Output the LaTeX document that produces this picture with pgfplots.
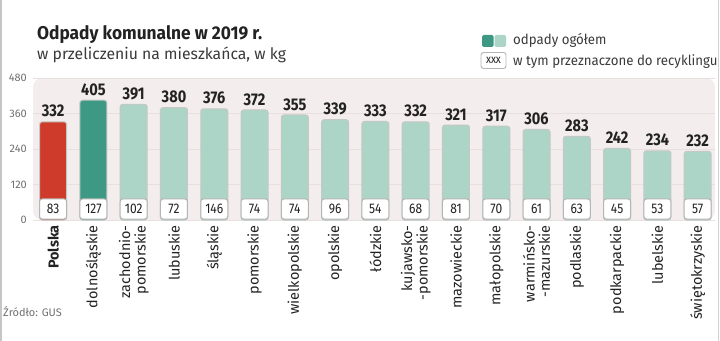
\documentclass[border=0pt]{standalone}
\usepackage{fontspec}
\setmainfont{Fira Sans}
\newfontfamily\cond[FakeStretch=0.86]{Fira Sans}
\newfontfamily\semi[FakeStretch=0.95]{Fira Sans}
\newfontfamily\tcond[FakeStretch=0.94]{Fira Sans}
\usepackage{pgfplots}
\pgfplotsset{compat=1.18}
\definecolor{panel}{HTML}{F4EDED}
\definecolor{gridc}{HTML}{EADFDF}
\definecolor{redb}{HTML}{CF3B2A}
\definecolor{darkteal}{HTML}{3D9984}
\definecolor{lightteal}{HTML}{ADD5C7}
\definecolor{barborder}{HTML}{C4C8C6}
\definecolor{boxborder}{HTML}{B2B6B4}
\definecolor{txt}{HTML}{222222}
\definecolor{subtxt}{HTML}{3A3A3A}
\definecolor{ticktxt}{HTML}{707070}
\begin{document}
\begin{tikzpicture}
\path[use as bounding box] (0bp,0bp) rectangle (720bp,341bp);
\draw[color=gray!45, line width=2bp] (1bp,0bp) -- (1bp,341bp);
\draw[color=gray!35, line width=1.5bp] (718.5bp,0bp) -- (718.5bp,341bp);
% titles
\node[anchor=base west, inner sep=0pt, text=txt, font=\tcond\bfseries\fontsize{18.5}{18.5}\selectfont] at (37bp,301bp) {Odpady komunalne w 2019 r.};
\node[anchor=base west, inner sep=0pt, text=subtxt, font=\fontsize{15.8}{16}\selectfont] at (37bp,281bp) {w przeliczeniu na mieszkańca, w kg};
% legend
\fill[darkteal, rounded corners=1.5bp] (482bp,294bp) rectangle (493.5bp,306bp);
\fill[lightteal, rounded corners=1.5bp] (494.5bp,294bp) rectangle (506bp,306bp);
\node[anchor=base west, inner sep=0pt, text=subtxt, font=\semi\fontsize{14}{14}\selectfont] at (513bp,296bp) {odpady ogółem};
\node[draw=boxborder, fill=white, line width=0.9bp, rounded corners=2.5bp, minimum width=25bp, minimum height=16bp, inner sep=0pt, text=txt, font=\cond\fontsize{12}{12}\selectfont] at (493.5bp,280.5bp) {xxx};
\node[anchor=base west, inner sep=0pt, text=subtxt, font=\semi\fontsize{14}{14}\selectfont] at (513bp,275bp) {w tym przeznaczone do recyklingu};
% source
\node[anchor=base west, inner sep=0pt, text=ticktxt, font=\fontsize{11}{11}\selectfont] at (3bp,25bp) {Źródło: GUS};
\begin{axis}[
  at={(33bp,121bp)}, anchor=south west,
  width=682bp, height=142bp, scale only axis,
  xmin=-0.5, xmax=16.43, ymin=0, ymax=480,
  ytick={0,120,240,360,480},
  xtick={0,...,16},
  xticklabels={{\textbf{Polska}},dolnośląskie,{zachodnio-\\pomorskie},lubuskie,śląskie,pomorskie,wielkopolskie,opolskie,łódzkie,{kujawsko-\\-pomorskie},mazowieckie,małopolskie,{warmińsko-\\-mazurskie},podlaskie,podkarpackie,lubelskie,świętokrzyskie},
  xticklabel style={rotate=90, anchor=east, align=right, inner xsep=5bp, inner ysep=0pt, text=txt, font=\fontsize{14.5}{15.5}\selectfont},
  yticklabel style={anchor=east, inner sep=0pt, xshift=-6bp, text=ticktxt, font=\fontsize{11}{11}\selectfont},
  /pgf/number format/assume math mode=true,
  axis line style={draw=none},
  major tick length=0pt,
  ymajorgrids, grid style={color=gridc, line width=0.7bp},
  axis background/.style={fill=panel, rounded corners=9bp},
  clip=false,
  ybar, bar width=27bp, bar shift=0pt,
  nodes near coords,
  every node near coord/.append style={anchor=south, inner sep=0pt, yshift=4bp, text=txt, font=\cond\bfseries\fontsize{17}{17}\selectfont},
]
\addplot[fill=redb, draw=barborder, line width=1bp, rounded corners=2.5bp] coordinates {(0,332)};
\addplot[fill=darkteal, draw=barborder, line width=1bp, rounded corners=2.5bp] coordinates {(1,405)};
\addplot[fill=lightteal, draw=barborder, line width=1bp, rounded corners=2.5bp] coordinates {
(2,391) (3,380) (4,376) (5,372) (6,355) (7,339) (8,333) (9,332) (10,321) (11,317) (12,306) (13,283) (14,242) (15,234) (16,232)};
\addplot[draw=none, mark=none, point meta=explicit,
  nodes near coords={\pgfmathprintnumber{\pgfplotspointmeta}},
  every node near coord/.style={anchor=south, yshift=0.5bp, fill=white, draw=boxborder, line width=1bp, rounded corners=2.5bp, minimum width=27bp, minimum height=20bp, inner sep=0pt, text=txt, font=\cond\fontsize{14}{14}\selectfont}]
coordinates {
(0,0) [83] (1,0) [127] (2,0) [102] (3,0) [72] (4,0) [146] (5,0) [74] (6,0) [74] (7,0) [96] (8,0) [54] (9,0) [68] (10,0) [81] (11,0) [70] (12,0) [61] (13,0) [63] (14,0) [45] (15,0) [53] (16,0) [57]};
\end{axis}
\end{tikzpicture}
\end{document}
